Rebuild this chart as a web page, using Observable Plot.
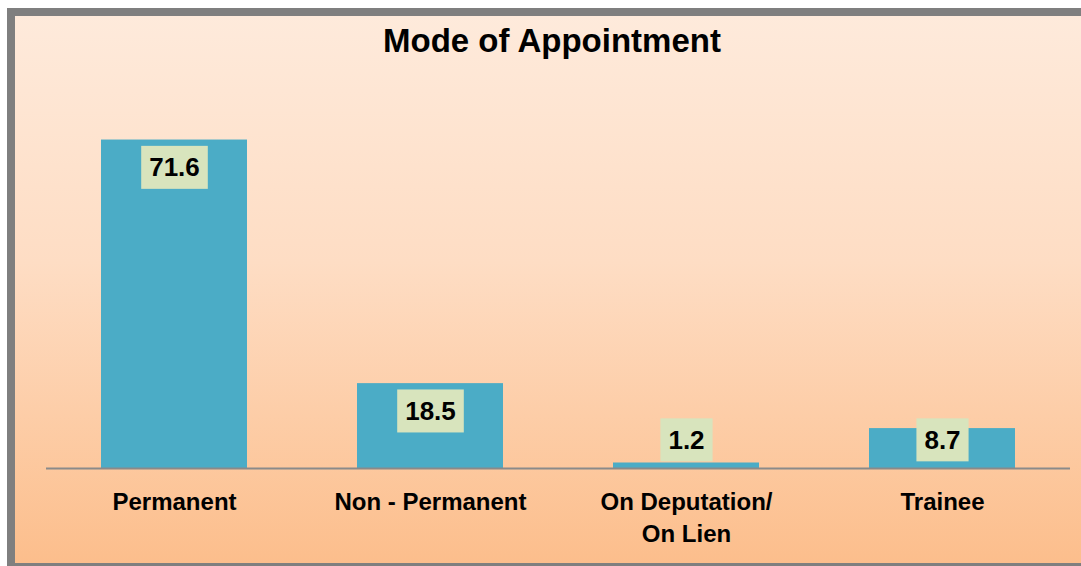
<!DOCTYPE html>
<html>
<head>
<meta charset="utf-8">
<script src="https://cdn.jsdelivr.net/npm/d3@7"></script>
<script src="https://cdn.jsdelivr.net/npm/@observablehq/plot@0.6"></script>
<style>
  html, body { margin: 0; padding: 0; width: 1081px; height: 566px; overflow: hidden; background: #ffffff; }
  #frame {
    position: absolute; left: 7px; top: 8px; width: 1100px; height: 547px;
    border: 8px solid #7f7f7f;
    background: linear-gradient(to bottom, #FEEADB 0%, #FEDDC4 45%, #FCBE8C 100%);
  }
  #title {
    position: absolute; left: 0; top: 8px; width: 1074px; text-align: center;
    font: bold 33px/1 "Liberation Sans", Arial, sans-serif; color: #000;
  }
  #chart { position: absolute; left: 0; top: 0; }
</style>
</head>
<body>
<div id="frame">
  <div id="chart"></div>
  <div id="title">Mode of Appointment</div>
</div>
<script>
const categories = ["Permanent", "Non - Permanent", "On Deputation/ On Lien", "Trainee"];
const values = [71.6, 18.5, 1.2, 8.7];
const tickLabels = ["Permanent", "Non - Permanent", "On Deputation/\nOn Lien", "Trainee"];

const data = categories.map((c, i) => ({category: c, value: values[i]}));
const labelMap = new Map(categories.map((c, i) => [c, tickLabels[i]]));

const chart = Plot.plot({
  width: 1066,
  height: 547,
  marginLeft: 31,
  marginRight: 11,
  marginTop: 85,
  marginBottom: 95,
  style: {background: "transparent", fontFamily: '"Liberation Sans", Arial, sans-serif', color: "#000", overflow: "visible"},
  x: {domain: categories, paddingInner: 0.43, paddingOuter: 0.215, label: null, axis: null},
  y: {domain: [0, 80], axis: null},
  marks: [
    Plot.barY(data, {x: "category", y: "value", fill: "#4BACC6"}),
    Plot.ruleY([0], {stroke: "#8a8a8a", strokeWidth: 2}),
    Plot.axisX({tickSize: 0, tickPadding: 19, fontSize: 24, fontWeight: "bold", fill: "#000", lineHeight: 1.33, tickFormat: d => labelMap.get(d), label: null}),
    Plot.text(data, {x: "category", y: d => Math.max(d.value, 12.2), dy: 28, text: d => d.value.toFixed(1), fontSize: 26, fontWeight: "bold", fill: "#000"})
  ]
});
document.getElementById("chart").append(chart);

// label boxes behind value labels
const groups = chart.querySelectorAll('g[aria-label="text"]');
groups.forEach(g => {
  g.querySelectorAll("text").forEach(t => {
    const bb = t.getBBox();
    const cy = bb.y + bb.height / 2;
    const r = document.createElementNS("http://www.w3.org/2000/svg", "rect");
    r.setAttribute("x", bb.x - 8);
    r.setAttribute("width", bb.width + 16);
    r.setAttribute("y", cy - 21.5);
    r.setAttribute("height", 43);
    r.setAttribute("fill", "#D8E4BD");
    if (t.getAttribute("transform")) r.setAttribute("transform", t.getAttribute("transform"));
    g.insertBefore(r, t);
  });
});
</script>
</body>
</html>
